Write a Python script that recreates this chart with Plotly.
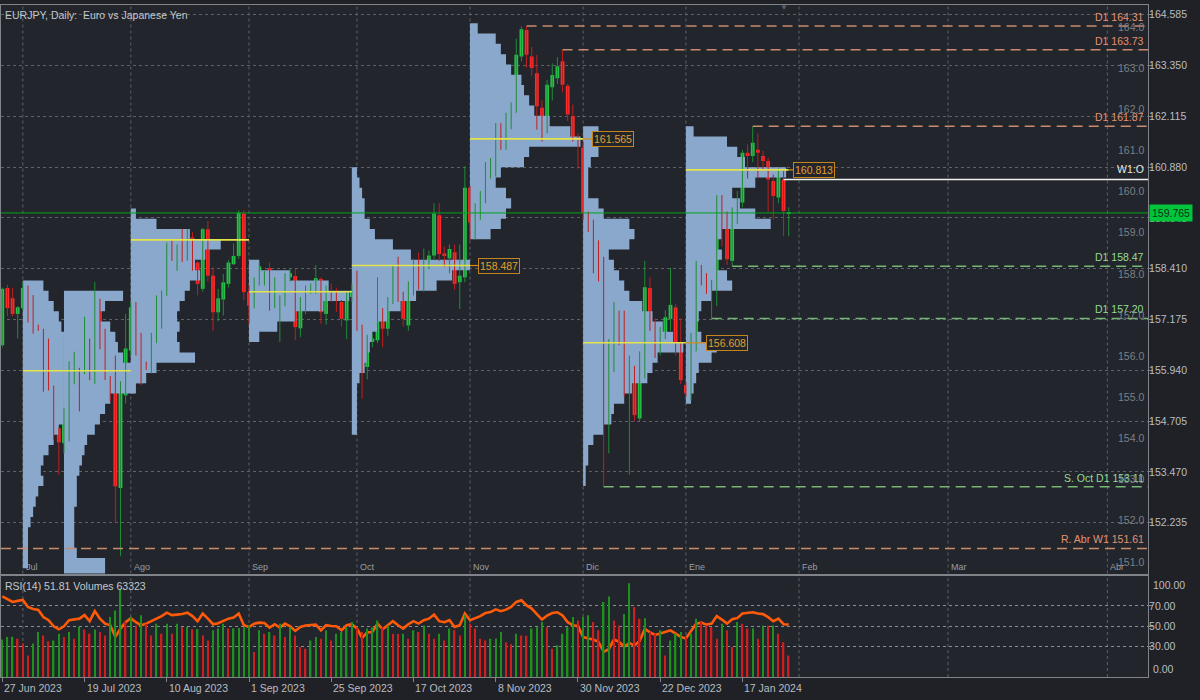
import plotly.graph_objects as go

# ---------------- DATA ----------------
OPEN = [156.55,157.94,157.69,157.31,157.45,157.94,157.15,157.03,156.93,155.74,
        155.50,154.53,154.17,155.00,155.66,155.94,155.90,156.47,155.94,157.55,
        156.57,155.78,155.51,153.08,155.33,156.42,157.47,156.80,156.10,156.06,
        156.79,157.07,157.76,158.97,158.65,158.77,158.72,159.17,158.56,157.92,
        159.37,158.24,157.35,157.66,158.04,158.52,158.72,159.75,157.84,157.55,
        158.14,158.12,158.42,157.56,157.51,157.60,158.20,158.23,156.96,157.44,
        157.85,157.88,158.16,157.31,157.84,157.72,157.60,157.15,157.72,158.00,
        157.03,156.02,156.63,156.67,157.29,156.95,157.64,158.40,157.76,157.03,
        157.88,158.42,157.96,158.50,158.73,159.71,158.78,158.66,158.81,158.08,
        158.20,160.38,159.53,159.80,160.14,160.78,160.86,161.67,161.43,161.87,
        162.32,163.57,164.21,163.57,163.16,162.32,161.89,162.82,163.04,163.45,
        162.86,162.12,161.51,161.35,159.60,159.47,158.90,158.56,155.62,156.06,
        157.29,157.03,155.46,156.00,154.77,155.98,157.94,157.05,156.46,156.87,
        157.19,157.47,156.42,155.58,155.38,156.55,158.26,158.12,157.97,158.00,
        159.94,159.45,158.60,159.60,160.02,161.23,161.15,161.30,161.15,161.03,
        160.54,160.14,160.58,159.74]
HIGH = [157.95,158.02,157.95,157.50,158.09,158.00,157.77,157.05,156.95,156.71,
        155.57,154.55,155.03,156.16,156.39,156.00,157.24,156.71,158.09,157.68,
        156.95,155.80,156.30,155.67,157.31,157.60,157.60,156.85,156.15,156.85,
        157.76,157.88,159.05,159.13,159.00,159.37,159.37,159.30,158.60,159.40,
        159.57,158.44,157.92,158.28,158.62,159.02,159.83,159.83,158.00,158.20,
        158.58,158.35,158.56,158.20,157.76,158.30,158.40,158.40,157.72,158.00,
        158.05,158.50,158.20,158.00,158.05,157.95,157.65,157.86,158.05,158.36,
        157.05,156.80,156.80,158.20,157.45,157.72,158.50,158.70,157.85,158.10,
        158.64,158.80,158.90,158.85,160.00,160.00,158.95,159.00,159.00,159.00,
        160.90,160.42,160.00,160.30,161.00,161.10,161.95,161.95,162.20,162.45,
        164.00,164.30,164.31,163.80,163.61,162.50,163.00,163.40,163.55,163.73,
        162.90,162.40,161.70,161.50,159.80,159.60,159.10,158.70,156.70,157.60,
        157.39,157.39,156.30,156.05,156.40,158.60,158.20,157.20,157.00,157.40,
        158.43,157.55,157.20,155.65,156.85,158.60,158.50,158.30,158.13,160.20,
        160.20,159.80,159.90,160.30,161.30,161.43,161.87,161.70,161.27,161.10,
        160.70,160.85,160.80,159.90]
LOW = [156.50,157.26,157.25,156.71,157.40,157.10,156.83,156.90,155.42,155.45,
       154.25,153.40,153.92,154.21,155.60,154.94,155.85,155.70,155.61,156.45,
       155.70,155.18,152.23,151.43,155.13,156.30,156.30,155.58,155.95,155.86,
       156.60,156.95,157.75,158.60,158.36,158.57,158.60,158.36,157.76,157.85,
       158.10,156.90,157.13,157.27,157.95,158.50,158.65,157.64,157.07,157.45,
       158.00,158.00,157.39,157.45,156.63,157.50,158.10,156.67,156.75,157.30,
       157.80,157.80,157.07,157.05,157.60,157.36,157.00,156.70,157.60,156.90,
       155.25,155.72,156.50,156.60,156.50,156.77,157.55,157.60,157.00,156.90,
       157.76,157.90,157.85,158.40,158.65,158.60,158.45,158.30,157.90,157.43,
       158.08,159.09,159.10,159.60,160.00,160.60,160.65,161.30,161.30,161.80,
       162.20,163.45,163.30,163.10,161.79,161.50,161.70,162.50,162.90,162.70,
       162.00,161.50,160.84,159.60,159.30,158.30,158.10,153.11,153.92,155.90,
       156.55,155.30,153.40,154.70,154.70,155.74,156.90,156.24,156.30,156.70,
       156.90,156.30,155.60,155.30,155.20,156.40,158.00,157.80,157.20,157.50,
       158.95,158.50,158.47,159.50,159.90,160.60,161.00,160.60,160.80,159.80,
       159.60,160.00,159.20,159.20]
CLOSE = [157.92,157.45,157.31,157.47,157.94,157.17,157.02,156.93,155.88,155.50,
         154.53,154.19,155.03,155.84,155.94,155.88,156.51,155.94,157.80,156.56,
         155.78,155.48,153.12,155.50,156.47,157.47,156.80,156.06,156.00,156.79,
         157.11,157.76,158.97,158.66,158.78,158.74,159.23,158.60,158.04,159.37,
         158.24,157.35,157.69,158.08,158.56,158.72,159.77,157.84,157.51,158.16,
         158.47,158.24,157.56,158.16,157.63,158.20,158.30,156.99,157.59,157.88,
         157.94,158.18,157.35,157.96,157.76,157.64,157.19,157.80,157.88,157.07,
         156.06,156.67,156.71,158.00,156.95,157.64,158.44,157.76,157.19,157.92,
         158.44,158.00,158.50,158.73,159.75,158.77,158.72,158.89,158.04,158.24,
         160.38,159.53,159.81,160.18,160.90,160.94,161.71,161.47,161.91,162.36,
         163.61,164.23,163.61,163.29,162.36,161.91,162.88,163.12,163.33,162.88,
         162.16,161.59,161.39,159.77,159.55,158.93,158.65,155.62,155.98,157.39,
         157.05,155.42,155.98,154.85,156.02,157.96,157.11,156.48,156.87,157.23,
         157.53,156.46,155.70,155.38,156.55,158.32,158.21,157.96,158.03,159.98,
         159.45,158.64,159.65,160.10,161.23,161.15,161.47,161.23,161.03,160.58,
         160.18,160.78,159.81,159.765]
RSI = [79.5,77,74,75,76,69,67,66,59,56,
       50,47,50,56,57,57.5,61,55,65,57.5,
       52.6,51,39.5,47.7,54,58,54,51,52.6,55,
       57,60,63.4,61,61.5,62,63.4,60,55,62.5,
       57.5,52,53,55,57.5,58.5,62.5,51,49.3,52.6,
       53.6,53.3,48.7,52,48.7,52.6,50,45.4,49.3,50.7,
       51,51.6,46,51,50.3,50,46,51,52,47.7,
       38.5,44,44.4,52.6,47,51,55,51,
       47.7,52,55,52.6,56,57.5,61.5,55,54,56,
       49.3,51,62.5,56,57.8,60,63,64,66.7,64.8,
       66.4,69,74,75.6,70.6,67.4,62,56.6,60.6,63,
       63.8,60.6,54,51,50,39.5,37.9,36.9,34.6,24.8,
       27.4,36.9,34.6,29.7,33.6,31,35.6,47.4,44,41.5,
       42.8,44.4,46,42.8,39.5,37.9,45.4,52.6,53.6,51.6,
       52.6,60,56.6,52.6,57,58,62.5,63,63.8,62.5,
       62,59,55,57.5,52,51.81]
VOLUME_K = [110,117,118,112,98,63,98,132,122,105,
            107,127,117,132,112,148,139,127,139,132,
            122,176,195,259,161,176,151,181,156,122,
            156,127,156,127,156,146,147,140,141,122,
            107,137,142,156,142,143,144,146,151,73,
            137,127,132,122,156,117,146,122,88,83,
            107,117,112,137,107,127,132,146,161,146,
            132,142,146,166,146,151,127,126,
            127,112,137,132,151,127,112,127,107,142,
            137,122,181,156,142,112,107,112,113,132,
            102,96,127,122,121,142,146,161,146,83,
            93,127,146,176,166,176,181,161,137,220,
            236,166,151,185,275,205,171,172,132,127,
            137,63,107,127,132,117,127,171,161,151,
            146,112,156,137,88,161,156,142,143,112,
            151,150,151,127,102,63.323]

DATE_TICK_BARS = [0, 16, 32, 48, 64, 80, 96, 112, 128, 144]
DATE_TICK_LABELS = ["27 Jun 2023", "19 Jul 2023", "10 Aug 2023", "1 Sep 2023", "25 Sep 2023",
                    "17 Oct 2023", "8 Nov 2023", "30 Nov 2023", "22 Dec 2023", "17 Jan 2024"]
MONTH_BARS = [4, 25, 48, 69, 91, 113, 133, 155, 184, 215]
MONTH_LABELS = ["Jul", "Ago", "Sep", "Oct", "Nov", "Dic", "Ene", "Feb", "Mar", "Abr"]
PRICE_TICKS = [164.585, 163.350, 162.115, 160.880, 159.645, 158.410, 157.175,
               155.940, 154.705, 153.470, 152.235]
ROUND_LEVELS = [164, 163, 162, 161, 160, 159, 158, 157, 156, 155, 154, 153, 152, 151]

# volume profiles (TPO width in bars per 0.25 price bin, from top bin downward)
PROFILE_STEP = 0.25
PROF_JUL_A_START, PROF_JUL_A_TOP = 4, 158.0
PROF_JUL_A = [4,5,6,7,7.5,8,8,8,8,8,8,8,8,8,7,6,5,4,3.5,4,3,2.5,2,1.5,1,1,1,1]
PROF_JUL_B_START, PROF_JUL_B_TOP = 12, 157.75
PROF_JUL_B = [11.5,8,7,9,10,10.5,11.5,16,15.5,13.5,9,8,7,6,4.5,4,3.5,3,2.5,2.5,2.5,2,2,2,2,2.5,8,8]
PROF_AUG_START, PROF_AUG_TOP = 25, 159.75
PROF_AUG = [1,5,11.5,17.5,14.5,12.5,13.5,11.5,10.5,9.5,9,9.5,9,9.5,12.5,5,3,1]
PROF_SEP_START, PROF_SEP_TOP = 48, 158.5
PROF_SEP = [2,8,15.5,19.5,14.5,9,5.5,2]
PROF_OCT_START, PROF_OCT_TOP = 68, 160.75
PROF_OCT = [1,1.5,2,2.5,2.5,3.5,4.5,8,11.5,23,19.5,16.5,12.5,9.5,7,5,4,3.5,3,2.5,1.5,1,1,1,1,1]
PROF_NOV_START, PROF_NOV_TOP = 91, 164.25
PROF_NOV = [1.5,5,6,7,8,10,10.5,11.5,12.5,15.5,19.5,21.5,11.5,10.5,6,5,7,8,7,6,4]
PROF_DEC_START, PROF_DEC_TOP = 113, 161.75
PROF_DEC = [3,5,3,1.5,1,1,1,3,4,9,10,9,5,6,7,8,9,11.5,13.5,15.5,17.5,19.5,14.5,13.5,12.5,9.5,8,6,5.5,4,2,1,1,0.5,0.5]
PROF_JAN_START, PROF_JAN_TOP = 133, 161.75
PROF_JAN = [1.5,8,10,11.5,19.5,13.5,9,10.5,13.5,16.5,7,6,7,6,8,9,5,3,2.5,2,3,6,5,2.5,2,1.5,1]

POC_PRICE = [155.93, 159.11, 157.85, 158.487, 161.565, 156.608, 160.813]
POC_START = [4, 25, 48, 68, 91, 113, 133]
POC_END = [25, 48, 68, 91, 113, 133, 153]
POC_LABEL_BAR = [None, None, None, 92.6, 114.8, 136.9, 153.9]

LEVEL_TEXT = ["D1 164.31", "D1 163.73", "D1 161.87", "D1 158.47", "D1 157.20",
              "S. Oct D1 153.11", "R. Abr W1 151.61"]
LEVEL_PRICE = [164.31, 163.73, 161.87, 158.47, 157.20, 153.11, 151.61]
LEVEL_START = [102, 109, 146, 142, 138, 117, -1]
LEVEL_SIDE = ["res", "res", "res", "sup", "sup", "sup", "res"]
W1_OPEN_PRICE, W1_OPEN_BAR = 160.58, 152
LAST_PRICE = 159.765

# ---------------- STYLE ----------------
BG = "#22252b"
PAPER = "#1f2126"
GRID = "#5d6168"
AXIS = "#80848a"
TXT = "#b9bdc2"
FONT = "Liberation Sans"
XMIN, XMAX = -0.25, 222.9
UP_BODY, UP_WICK = "#27c24a", "#1f8d36"
DN_BODY, DN_WICK = "#ff2b2b", "#c01f1f"
PROF_COLOR = "#8aa7cc"
RES_COL, RES_TXT = "#c98a6e", "#e39272"
SUP_COL, SUP_TXT = "#74b874", "#95dc95"

fig = go.Figure()
n = len(CLOSE)
X = list(range(n))

# volume profiles
profiles = [(PROF_JUL_A_START, PROF_JUL_A_TOP, PROF_JUL_A), (PROF_JUL_B_START, PROF_JUL_B_TOP, PROF_JUL_B),
            (PROF_AUG_START, PROF_AUG_TOP, PROF_AUG), (PROF_SEP_START, PROF_SEP_TOP, PROF_SEP),
            (PROF_OCT_START, PROF_OCT_TOP, PROF_OCT), (PROF_NOV_START, PROF_NOV_TOP, PROF_NOV),
            (PROF_DEC_START, PROF_DEC_TOP, PROF_DEC), (PROF_JAN_START, PROF_JAN_TOP, PROF_JAN)]
h = PROFILE_STEP / 2
for start, top, widths in profiles:
    xs, ys = [start], [top + h]
    for k, w in enumerate(widths):
        p = top - k * PROFILE_STEP
        xs += [start + w, start + w]
        ys += [p + h, p - h]
    xs += [start, start]
    ys += [top - (len(widths) - 1) * PROFILE_STEP - h, top + h]
    fig.add_trace(go.Scatter(x=xs, y=ys, fill="toself", fillcolor=PROF_COLOR, mode="lines",
                             line=dict(width=0, color=PROF_COLOR), hoverinfo="skip",
                             showlegend=False, xaxis="x", yaxis="y"))

# candles: wicks
for up, col in [(True, UP_WICK), (False, DN_WICK)]:
    wx, wy = [], []
    for i in X:
        if (CLOSE[i] >= OPEN[i]) == up:
            wx += [i, i, None]
            wy += [LOW[i], HIGH[i], None]
    fig.add_trace(go.Scatter(x=wx, y=wy, mode="lines", line=dict(color=col, width=1),
                             hoverinfo="skip", showlegend=False, xaxis="x", yaxis="y"))
# candles: bodies
body_h = [max(abs(CLOSE[i] - OPEN[i]), 0.03) for i in X]
body_b = [min(CLOSE[i], OPEN[i]) for i in X]
body_c = [UP_BODY if CLOSE[i] >= OPEN[i] else DN_BODY for i in X]
fig.add_trace(go.Bar(x=X, y=body_h, base=body_b, width=0.74, marker=dict(color=body_c, line=dict(width=0)),
                     showlegend=False, xaxis="x", yaxis="y", hoverinfo="skip"))

# volumes
vol = [v * 1000 for v in VOLUME_K]
vol_c = ["#1f8f1f" if (i == 0 or vol[i] > vol[i - 1]) else "#cc1f1f" for i in X]
fig.add_trace(go.Bar(x=X, y=vol, width=0.28, marker=dict(color=vol_c, line=dict(width=0)),
                     showlegend=False, xaxis="x2", yaxis="y3", hoverinfo="skip"))
# RSI
fig.add_trace(go.Scatter(x=X, y=RSI, mode="lines", line=dict(color="#ff5a0a", width=2.6),
                         showlegend=False, xaxis="x2", yaxis="y2", hoverinfo="skip"))

shapes = []
annos = []
# month grid lines
for b in MONTH_BARS:
    for yr in ["y domain", "y2 domain"]:
        shapes.append(dict(type="line", xref="x", yref=yr, x0=b, x1=b, y0=0, y1=1,
                           line=dict(color=GRID, width=1, dash="dot"), layer="below"))
# green last price line
shapes.append(dict(type="line", xref="x domain", yref="y", x0=0, x1=1, y0=LAST_PRICE, y1=LAST_PRICE,
                   line=dict(color="#00a51c", width=1)))
# POC lines
for p, s, e, lb in zip(POC_PRICE, POC_START, POC_END, POC_LABEL_BAR):
    shapes.append(dict(type="line", xref="x", yref="y", x0=s, x1=e, y0=p, y1=p,
                       line=dict(color="#e3e34a", width=1.6)))
    if lb is not None:
        shapes.append(dict(type="line", xref="x", yref="y", x0=e, x1=lb, y0=p, y1=p,
                           line=dict(color="#d58b12", width=1.2)))
        annos.append(dict(x=lb, y=p, xref="x", yref="y", text=f"{p}",
                          xanchor="left", yanchor="middle", showarrow=False,
                          font=dict(family=FONT, size=10.5, color="#e3a030"),
                          bgcolor=BG, bordercolor="#c4851a", borderwidth=1, borderpad=1))
# level lines
for t, p, s, side in zip(LEVEL_TEXT, LEVEL_PRICE, LEVEL_START, LEVEL_SIDE):
    col, tc = (RES_COL, RES_TXT) if side == "res" else (SUP_COL, SUP_TXT)
    shapes.append(dict(type="line", xref="x", yref="y", x0=max(s, XMIN), x1=XMAX, y0=p, y1=p,
                       line=dict(color=col, width=1.5, dash="10px,6px")))
    annos.append(dict(x=0.9985, y=p, xref="paper", yref="y", text=t, xanchor="right", yanchor="bottom",
                      yshift=1, showarrow=False, font=dict(family=FONT, size=10.5, color=tc)))
# weekly open
shapes.append(dict(type="line", xref="x", yref="y", x0=W1_OPEN_BAR, x1=XMAX, y0=W1_OPEN_PRICE, y1=W1_OPEN_PRICE,
                   line=dict(color="#f0f0f0", width=1.5)))
annos.append(dict(x=0.9985, y=W1_OPEN_PRICE, xref="paper", yref="y", text="W1:O", xanchor="right",
                  yanchor="bottom", yshift=2, showarrow=False, font=dict(family=FONT, size=10.5, color="#e8e8e8")))
# round number labels
for lv in ROUND_LEVELS:
    annos.append(dict(x=0.9985, y=lv, xref="paper", yref="y", text=f"{lv:.1f}", xanchor="right",
                      yanchor="bottom", yshift=4, showarrow=False, font=dict(family=FONT, size=10.5, color="#7c8086")))
# month labels
for b, m in zip(MONTH_BARS, MONTH_LABELS):
    annos.append(dict(x=b, y=151.0, xref="x", yref="y", text=m, xanchor="left", yanchor="bottom",
                      xshift=1, yshift=0, showarrow=False, font=dict(family=FONT, size=9, color="#9a9ea4")))
# date labels
for b, t in zip(DATE_TICK_BARS, DATE_TICK_LABELS):
    annos.append(dict(x=b, y=-0.0165, xref="x", yref="paper", text=t, xanchor="left", yanchor="middle",
                      showarrow=False, font=dict(family=FONT, size=10.5, color=TXT)))
# last price tag
annos.append(dict(x=1.0, y=LAST_PRICE, xref="paper", yref="y", text=f"{LAST_PRICE:.3f}", xanchor="left",
                  yanchor="middle", xshift=1, showarrow=False, bgcolor="#00c43a", borderpad=2,
                  font=dict(family=FONT, size=10.5, color="#10301a")))
# RSI extreme labels
annos.append(dict(x=1.0, y=1.0, xref="paper", yref="y2 domain", text="100.00", xanchor="left", yanchor="top",
                  xshift=3, yshift=-1, showarrow=False, font=dict(family=FONT, size=10.5, color=TXT)))
annos.append(dict(x=1.0, y=0.0, xref="paper", yref="y2 domain", text="0.00", xanchor="left", yanchor="bottom",
                  xshift=3, showarrow=False, font=dict(family=FONT, size=10.5, color=TXT)))
# titles
annos.append(dict(x=0.002, y=1.0, xref="paper", yref="paper", text="EURJPY, Daily:  Euro vs Japanese Yen",
                  xanchor="left", yanchor="top", yshift=-2, showarrow=False,
                  font=dict(family=FONT, size=10.5, color="#c4c8cc")))
annos.append(dict(x=0.002, y=1.0, xref="paper", yref="y2 domain", text=f"RSI(14) {RSI[-1]:.2f} Volumes {int(round(vol[-1]))}",
                  xanchor="left", yanchor="top", yshift=-2, showarrow=False,
                  font=dict(family=FONT, size=10.5, color="#c4c8cc")))
annos.append(dict(x=152, y=1.0, xref="x", yref="paper", text="▼", xanchor="center", yanchor="top",
                  yshift=4, showarrow=False, font=dict(family=FONT, size=8, color="#5e646c")))

fig.update_layout(
    width=1200, height=700, paper_bgcolor=PAPER, plot_bgcolor=BG,
    margin=dict(l=1, r=52, t=5, b=23), barmode="overlay", showlegend=False,
    font=dict(family=FONT, size=10.5, color=TXT),
    xaxis=dict(domain=[0, 1], range=[XMIN, XMAX], anchor="y", showgrid=False, zeroline=False,
               showticklabels=False, showline=True, mirror=True, linecolor=AXIS, ticks=""),
    xaxis2=dict(domain=[0, 1], range=[XMIN, XMAX], anchor="y2", matches="x", showgrid=False, zeroline=False,
                tickvals=DATE_TICK_BARS, showticklabels=False, ticks="outside", ticklen=4, tickcolor=AXIS,
                showline=True, mirror=True, linecolor=AXIS),
    yaxis=dict(domain=[0.154, 1], range=[151.0, 164.82], side="right", tickvals=PRICE_TICKS,
               ticktext=[f"{v:.3f}" for v in PRICE_TICKS], ticks="outside", ticklen=4, tickcolor=AXIS,
               ticklabelstandoff=-6,
               showgrid=True, gridcolor=GRID, griddash="dot", zeroline=False,
               showline=True, mirror=True, linecolor=AXIS, tickfont=dict(color=TXT, size=10.5)),
    yaxis2=dict(domain=[0, 0.151], range=[0, 100], side="right", tickvals=[30, 50, 70],
                ticktext=["30.00", "50.00", "70.00"], ticks="outside", ticklen=4, tickcolor=AXIS,
                ticklabelstandoff=-6,
                showgrid=True, gridcolor="#8a8e94", griddash="dot", zeroline=False,
                showline=True, mirror=True, linecolor=AXIS, tickfont=dict(color=TXT, size=10.5)),
    yaxis3=dict(domain=[0, 0.151], range=[0, 297600], overlaying="y2", anchor="x2", visible=False),
    shapes=shapes, annotations=annos,
)
fig.write_html("out.html", config={"displayModeBar": False},
               post_script="document.body.style.margin='0';document.body.style.background='#1f2126';")
